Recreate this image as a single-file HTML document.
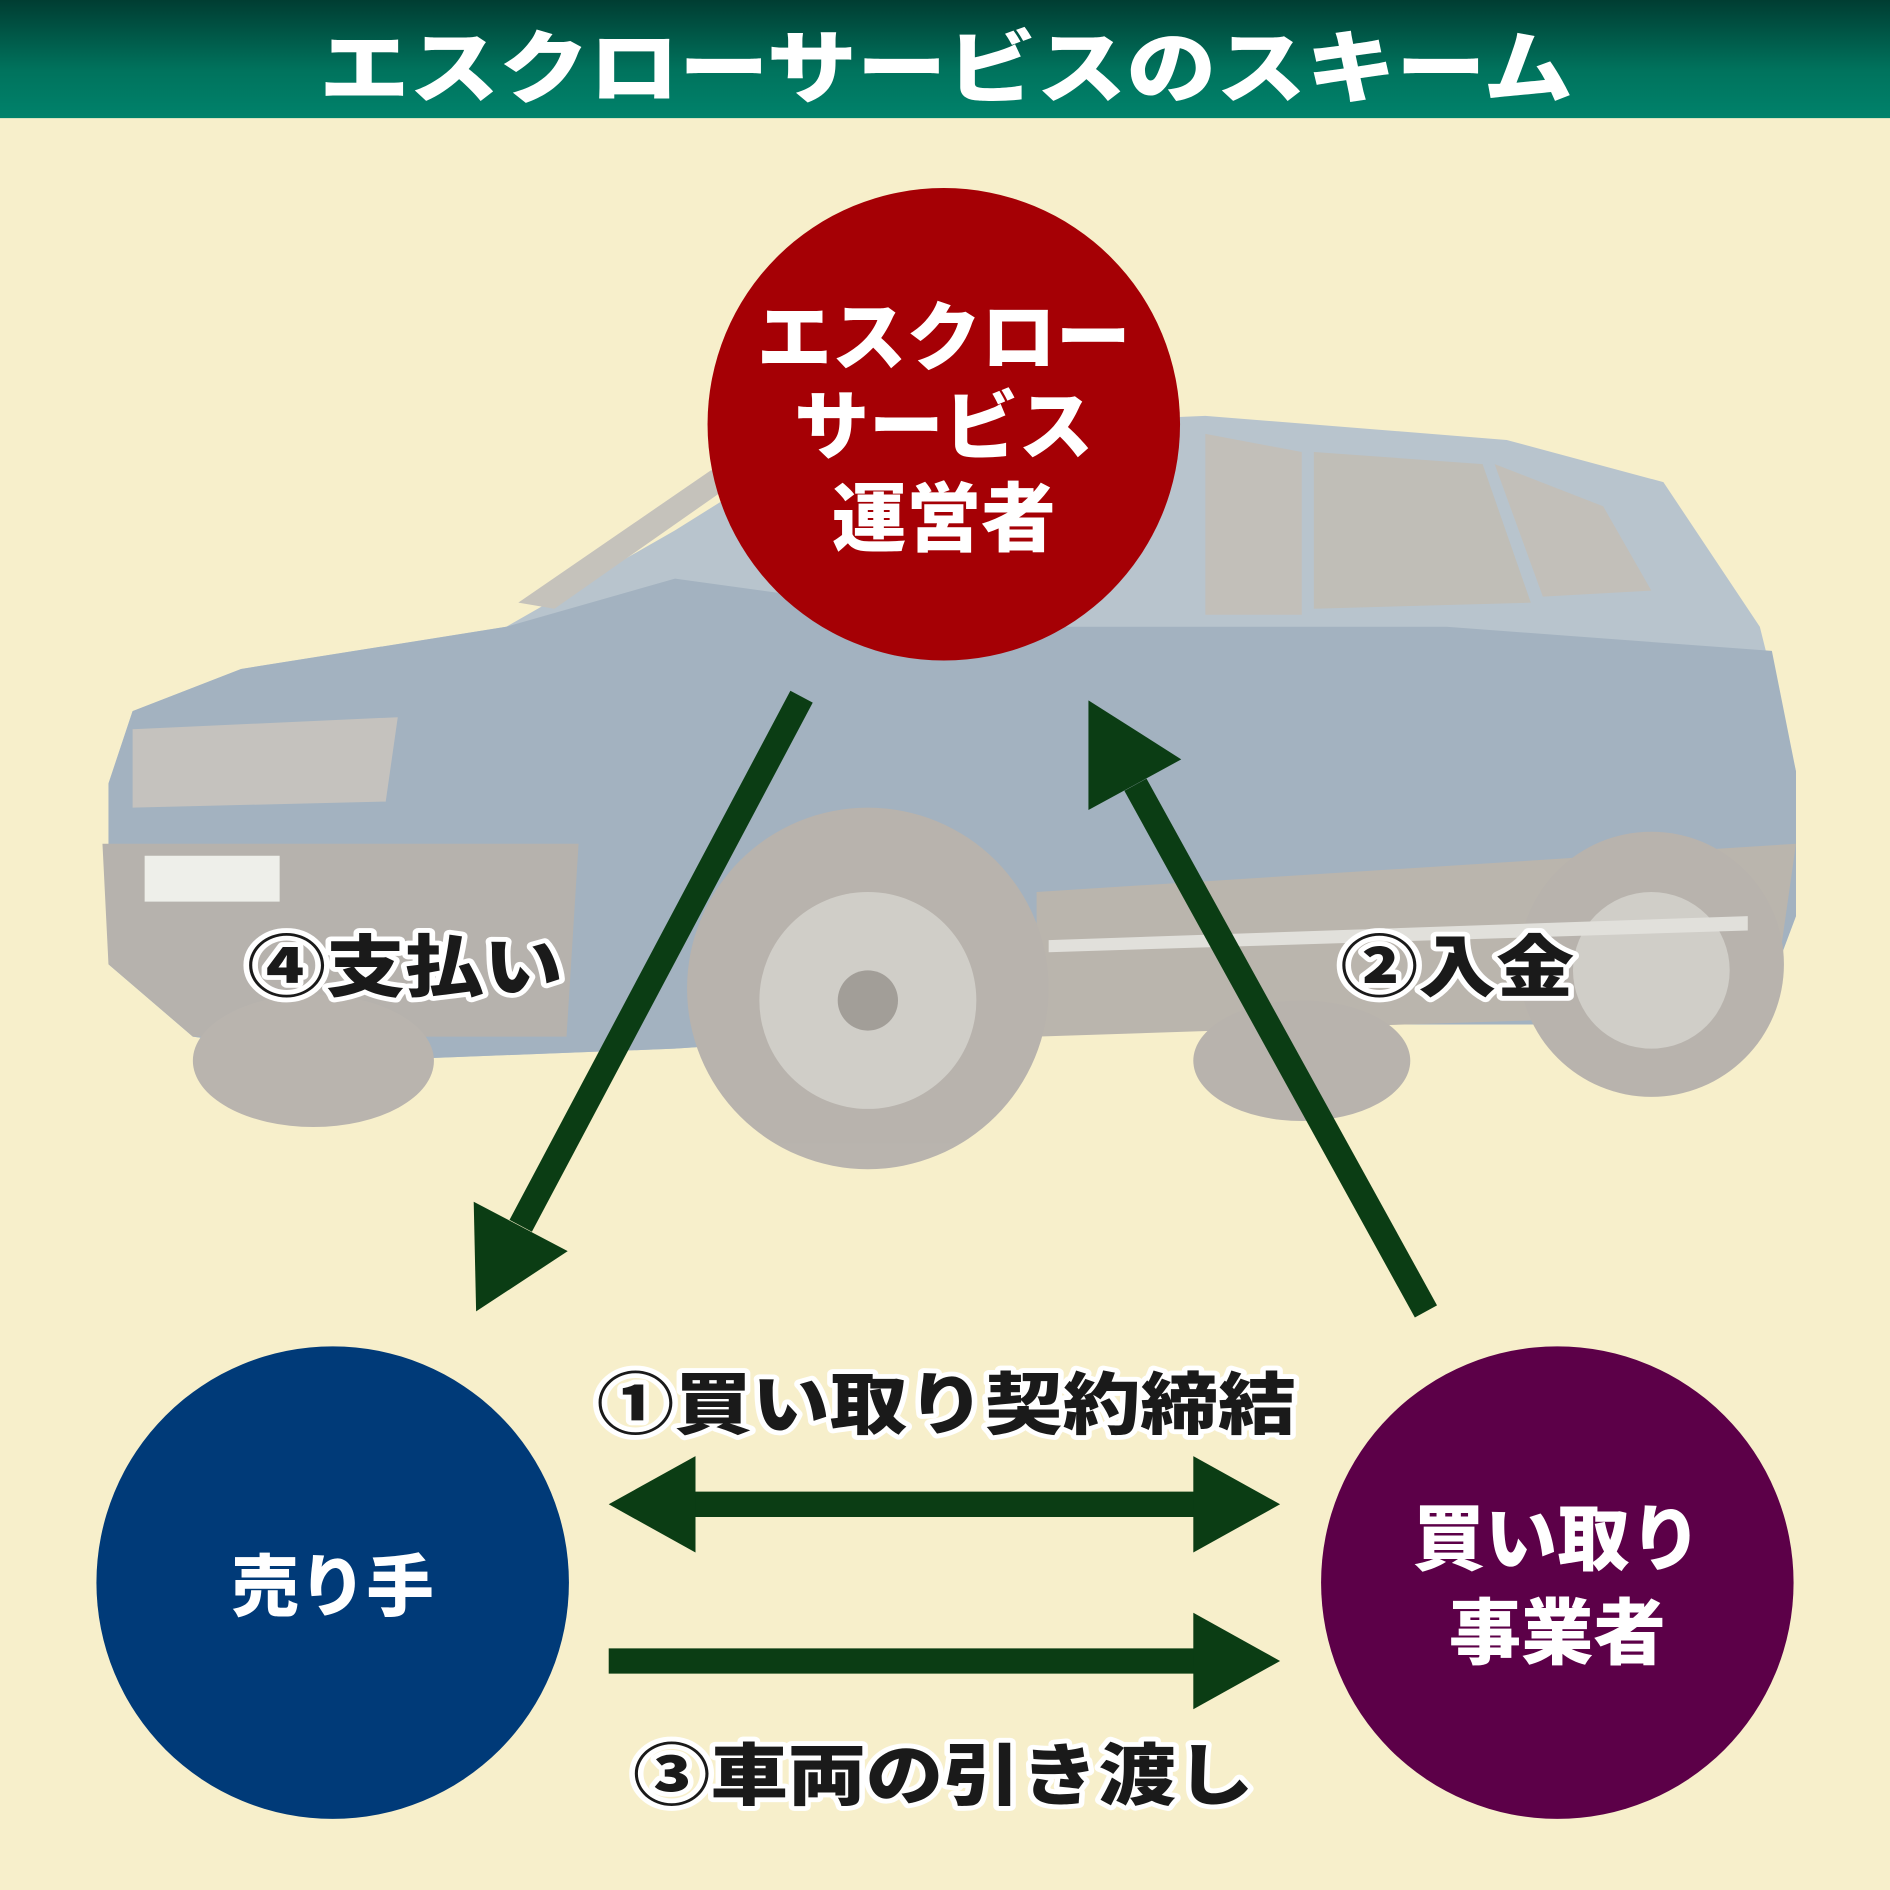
<!DOCTYPE html>
<html><head><meta charset="utf-8"><style>
html,body{margin:0;padding:0;background:#f7efcb}
svg{display:block}
text{font-family:"Liberation Sans","Noto Sans CJK JP",sans-serif;font-weight:900}
</style></head><body>
<svg width="1890" height="1890" viewBox="0 0 1568 1568" xmlns="http://www.w3.org/2000/svg">
<defs>
<linearGradient id="hg" x1="0" y1="0" x2="0" y2="1"><stop offset="0" stop-color="#003d32"/><stop offset="0.6" stop-color="#00735d"/><stop offset="1" stop-color="#00826b"/></linearGradient>
</defs>
<rect width="1568" height="1568" fill="#f7efcb"/>
<rect width="1568" height="98" fill="url(#hg)"/>
<text x="785" y="80" font-size="66" fill="#fff" text-anchor="middle" textLength="1040" lengthAdjust="spacingAndGlyphs">エスクローサービスのスキーム</text>

<!-- car -->
<g opacity="0.8">
<path d="M90,650 L110,590 L200,555 L420,520 L560,440 L640,390 L760,355 L1000,345 L1250,365 L1380,400 L1460,520 L1490,640 L1490,760 L1460,840 L1300,850 L860,850 L560,870 L300,880 L160,860 L90,800 Z" fill="#a9bace"/>
<path d="M90,650 L110,590 L200,555 L420,520 L560,480 L850,520 L1200,520 L1470,540 L1490,640 L1490,760 L1460,840 L1300,850 L860,850 L560,870 L300,880 L160,860 L90,800 Z" fill="#8fa4be"/>
<path d="M860,740 L1490,700 L1470,840 L860,860 Z" fill="#aca7a6"/>
<path d="M85,700 L480,700 L470,860 L160,860 L90,800 Z" fill="#a6a4a6"/>
<path d="M110,605 L330,595 L320,665 L110,670 Z" fill="#b9b8bb"/>
<path d="M120,710 L232,710 L232,748 L120,748 Z" fill="#eceff2"/>
<path d="M1000,360 L1080,375 L1080,510 L1000,510 Z" fill="#b6b4b5"/>
<path d="M1090,375 L1230,385 L1270,500 L1090,505 Z" fill="#b3b2b3"/>
<path d="M1240,385 L1330,420 L1370,490 L1280,495 Z" fill="#b6b4b5"/>
<path d="M430,500 L590,390 L610,400 L460,505 Z" fill="#b9b7b8"/>
<circle cx="720" cy="820" r="150" fill="#a9a5a6"/>
<circle cx="720" cy="830" r="90" fill="#c7c6c8"/>
<circle cx="720" cy="830" r="25" fill="#8d8a8c"/>
<circle cx="1370" cy="800" r="110" fill="#a9a5a6"/>
<circle cx="1370" cy="805" r="65" fill="#c7c6c8"/>
<ellipse cx="260" cy="880" rx="100" ry="55" fill="#aaa6a7"/>
<ellipse cx="1080" cy="880" rx="90" ry="50" fill="#a9a5a6"/>
<path d="M870,780 L1450,760 L1450,772 L870,790 Z" fill="#dcdde0"/>
</g>

<!-- circles -->
<circle cx="783" cy="352" r="196" fill="#a50005"/>
<g font-size="62" fill="#fff" text-anchor="middle">
<text x="783" y="302">エスクロー</text>
<text x="783" y="376">サービス</text>
<text x="783" y="452">運営者</text>
</g>
<circle cx="276" cy="1313" r="196" fill="#003a78"/>
<text x="276" y="1336" font-size="56" fill="#fff" text-anchor="middle">売り手</text>
<circle cx="1292" cy="1313" r="196" fill="#5c0048"/>
<g font-size="60" fill="#fff" text-anchor="middle">
<text x="1292" y="1298">買い取り</text>
<text x="1292" y="1376">事業者</text>
</g>

<!-- arrows -->
<g stroke="#0b3d14" stroke-width="21" fill="none">
<line x1="665" y1="578" x2="432" y2="1017"/>
<line x1="1183" y1="1088" x2="942" y2="651"/>
<line x1="570" y1="1248" x2="997" y2="1248"/>
<line x1="505" y1="1378" x2="997" y2="1378"/>
</g>
<g fill="#0b3d14">
<polygon points="395,1088 471,1038 393,997"/>
<polygon points="903,581 980,630 903,672"/>
<polygon points="505,1248 577,1208 577,1288"/>
<polygon points="1062,1248 990,1208 990,1288"/>
<polygon points="1062,1378 990,1338 990,1418"/>
</g>

<!-- labels -->
<g font-size="56" fill="#1a1a1a" stroke="#fff" stroke-width="8" paint-order="stroke" stroke-linejoin="round">
<text x="205" y="822" textLength="262" lengthAdjust="spacingAndGlyphs">④支払い</text>
<text x="1112" y="822" textLength="194" lengthAdjust="spacingAndGlyphs">②入金</text>
<text x="495" y="1185" textLength="580" lengthAdjust="spacingAndGlyphs">①買い取り契約締結</text>
<text x="525" y="1493" textLength="515" lengthAdjust="spacingAndGlyphs">③車両の引き渡し</text>
</g>
</svg>
</body></html>
